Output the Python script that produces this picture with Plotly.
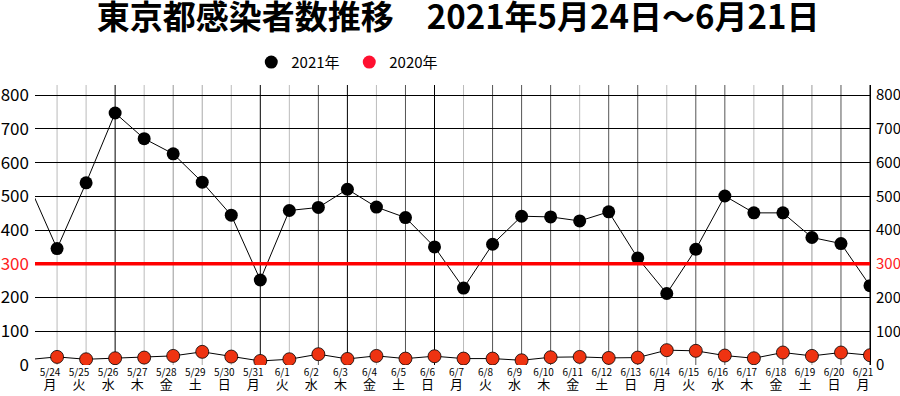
import plotly.graph_objects as go

dates = ["5/23", "5/24", "5/25", "5/26", "5/27", "5/28", "5/29", "5/30", "5/31", "6/1", "6/2",
         "6/3", "6/4", "6/5", "6/6", "6/7", "6/8", "6/9", "6/10", "6/11", "6/12",
         "6/13", "6/14", "6/15", "6/16", "6/17", "6/18", "6/19", "6/20", "6/21"]
weekdays = ["日", "月", "火", "水", "木", "金", "土", "日", "月", "火", "水",
            "木", "金", "土", "日", "月", "火", "水", "木", "金", "土",
            "日", "月", "火", "水", "木", "金", "土", "日", "月"]
cases_2021 = [540, 345, 540, 747, 671, 626, 542, 444, 252, 458, 467,
              521, 468, 437, 350, 228, 358, 441, 439, 427, 454,
              317, 212, 343, 501, 451, 451, 378, 360, 235]
cases_2020 = [16, 24, 17, 20, 22, 27, 39, 25, 12, 17, 32,
              18, 27, 19, 26, 19, 19, 14, 23, 24, 21,
              22, 44, 42, 28, 20, 37, 27, 37, 29]
grid_shade = ["#bbbbbb", "#bbbbbb", "#bbbbbb", "#000000", "#bbbbbb", "#999999", "#aaaaaa", "#bbbbbb", "#000000", "#bbbbbb", "#555555",
              "#000000", "#bbbbbb", "#555555", "#000000", "#bbbbbb", "#555555", "#555555", "#555555", "#bbbbbb", "#555555",
              "#555555", "#bbbbbb", "#555555", "#555555", "#bbbbbb", "#555555", "#999999", "#555555", "#000000"]
y_ticks = [0, 100, 200, 300, 400, 500, 600, 700, 800]
threshold = 300

title = "東京都感染者数推移　2021年5月24日～6月21日"
font = "Noto Sans CJK JP"
num_font = "Liberation Sans Narrow, Noto Sans CJK JP"

tick_text = [f"{d}<br><span style='font-size:13px'>{w}</span>" for d, w in zip(dates, weekdays)]
y_text = [f"<span style='color:#ff2020'>{v}</span>" if v == threshold else str(v) for v in y_ticks]

fig = go.Figure()

# vertical grid lines
for i, c in enumerate(grid_shade):
    fig.add_shape(type="line", xref="x", yref="paper", x0=i, x1=i, y0=0, y1=1,
                  line=dict(color=c, width=1), layer="below")

fig.add_trace(go.Scatter(x=dates, y=cases_2021, mode="lines+markers", showlegend=False,
                         line=dict(color="#000000", width=1),
                         marker=dict(color="#000000", size=13)))
fig.add_trace(go.Scatter(x=dates, y=cases_2020, mode="lines+markers", showlegend=False,
                         line=dict(color="#000000", width=1),
                         marker=dict(color="#ee3311", size=13, line=dict(color="#000000", width=0.8))))
fig.add_trace(go.Scatter(x=[None], y=[None], mode="markers", name="2021年",
                         marker=dict(color="#000000", size=13)))
fig.add_trace(go.Scatter(x=[None], y=[None], mode="markers", name="2020年",
                         marker=dict(color="#ff1030", size=13)))
# invisible trace to activate right axis
fig.add_trace(go.Scatter(x=dates, y=cases_2021, yaxis="y2", mode="lines", showlegend=False,
                         line=dict(width=0), hoverinfo="skip"))

fig.add_shape(type="line", xref="paper", yref="y", x0=0, x1=1, y0=threshold, y1=threshold,
              line=dict(color="#ff0000", width=3.5))

fig.update_layout(
    width=900, height=396,
    margin=dict(l=35, r=30, t=85, b=31, autoexpand=False),
    paper_bgcolor="white", plot_bgcolor="white",
    font=dict(family=font, color="#000000", size=15),
    title=dict(text=title, x=0.509, xanchor="center", yref="container", y=0.957, yanchor="middle",
               font=dict(family=font, size=33, color="#000000", weight="bold")),
    legend=dict(orientation="h", x=0.259, y=1.081, xanchor="left", yanchor="middle",
                font=dict(family=font, size=15), itemwidth=30, bgcolor="rgba(0,0,0,0)",
                entrywidth=53, entrywidthmode="pixels"),
    xaxis=dict(type="category", range=[0.24, 29], tickvals=dates, ticktext=tick_text,
               showgrid=False, showline=False, ticks="", zeroline=False, automargin=False,
               tickfont=dict(size=10, family=font), tickangle=0, ticklabelshift=-7,
               ticklabelstandoff=0),
    yaxis=dict(range=[0, 830], tickvals=y_ticks, ticktext=y_text, showgrid=True, automargin=False,
               gridcolor="#000000", gridwidth=1, zeroline=False, showline=False,
               ticks="", tickfont=dict(size=17, family=num_font), ticklabelstandoff=5),
    yaxis2=dict(range=[0, 830], tickvals=y_ticks, ticktext=y_text, overlaying="y", side="right",
                showgrid=False, zeroline=False, showline=True, linecolor="#000000", linewidth=1,
                automargin=False,
                ticks="", tickfont=dict(size=15, family=num_font), ticklabelstandoff=2),
)

fig.write_html("out.html", config={"displayModeBar": False},
               post_script="document.body.style.margin='0';")
